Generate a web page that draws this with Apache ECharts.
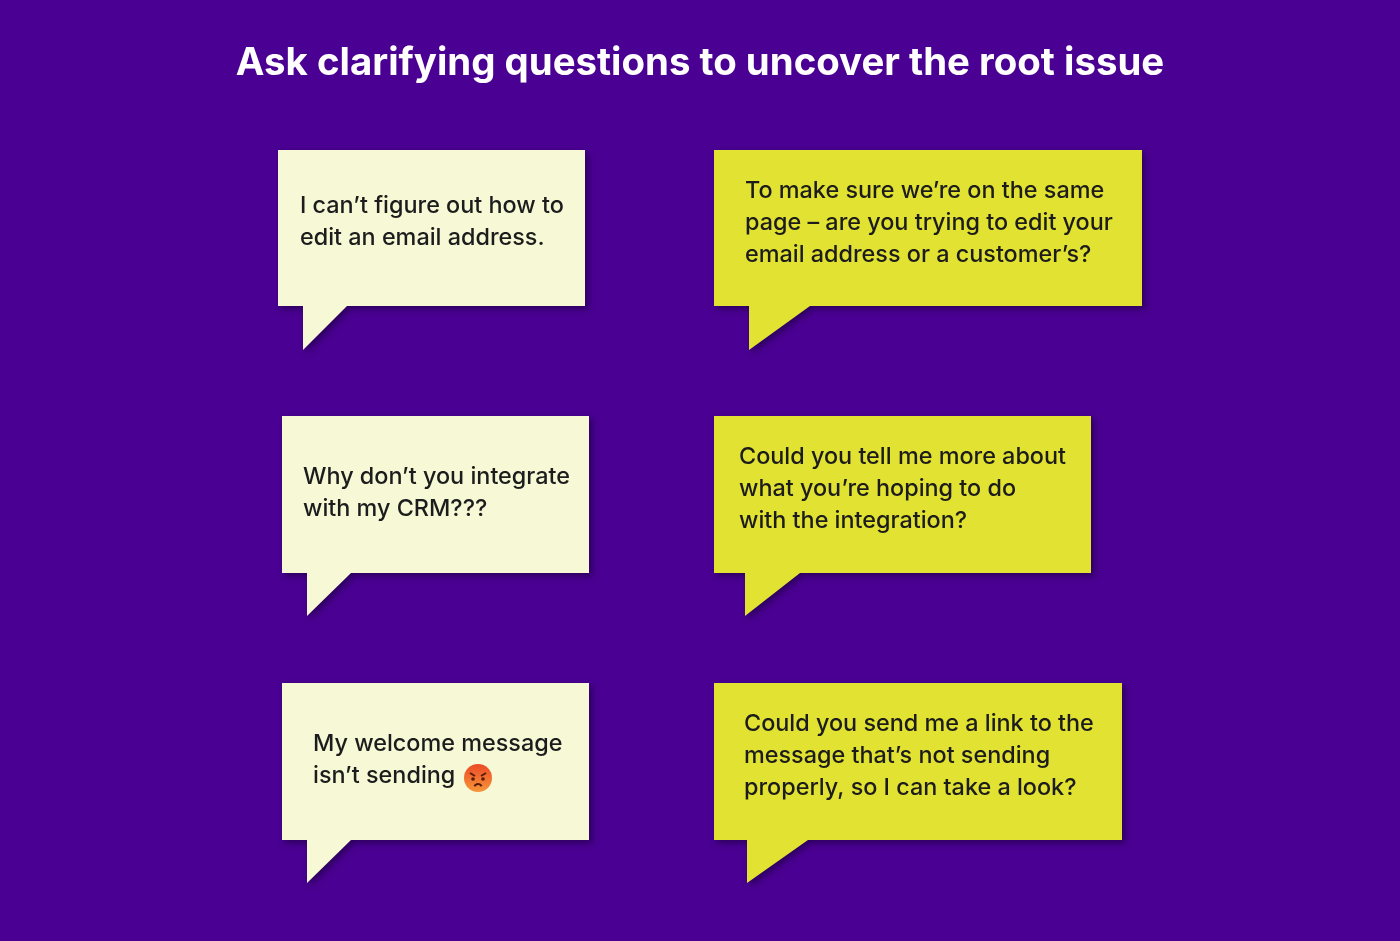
<!DOCTYPE html>
<html>
<head>
<meta charset="utf-8">
<title>Ask clarifying questions</title>
<script src="https://cdn.jsdelivr.net/npm/echarts@6/dist/echarts.min.js"></script>
<style>
  html, body { margin: 0; padding: 0; background: #4a0092; }
  #chart { width: 1400px; height: 941px; }
</style>
</head>
<body>
<div id="chart"></div>
<script>
// --- content ---
var titleText = 'Ask clarifying questions to uncover the root issue';

// customer messages (left column)
var customerLines = [
    ['I can\u2019t figure out how to', 'edit an email address.'],
    ['Why don\u2019t you integrate', 'with my CRM???'],
    ['My welcome message', 'isn\u2019t sending']
];

// support replies (right column)
var replyLines = [
    ['To make sure we\u2019re on the same', 'page \u2013 are you trying to edit your', 'email address or a customer\u2019s?'],
    ['Could you tell me more about', 'what you\u2019re hoping to do', 'with the integration?'],
    ['Could you send me a link to the', 'message that\u2019s not sending', 'properly, so I can take a look?']
];

// --- layout of the bubbles (box, tail, first text line) ---
var leftBoxes = [
    { x0: 278, y0: 150, x1: 585, y1: 306, tailX: 303, tailR: 347, tip: 350, tx: 300, ty: 206 },
    { x0: 282, y0: 416, x1: 589, y1: 573, tailX: 307, tailR: 351, tip: 616, tx: 303, ty: 477 },
    { x0: 282, y0: 683, x1: 589, y1: 840, tailX: 307, tailR: 351, tip: 883, tx: 313, ty: 744 }
];
var rightBoxes = [
    { x0: 714, y0: 150, x1: 1142, y1: 306, tailX: 749, tailR: 810, tip: 350, tx: 745, ty: 191 },
    { x0: 714, y0: 416, x1: 1091, y1: 573, tailX: 745, tailR: 800, tip: 616, tx: 739, ty: 457 },
    { x0: 714, y0: 683, x1: 1122, y1: 840, tailX: 747, tailR: 808, tip: 883, tx: 744, ty: 724 }
];

var LINE_H = 32;
var FONT = 'Inter, "Noto Sans", sans-serif';

function bubble(box, lines, fill) {
    var children = [];
    children.push({
        type: 'polygon',
        shape: {
            points: [
                [box.x0, box.y0], [box.x1, box.y0], [box.x1, box.y1],
                [box.tailR, box.y1], [box.tailX, box.tip], [box.tailX, box.y1],
                [box.x0, box.y1]
            ]
        },
        style: {
            fill: fill,
            shadowBlur: 6,
            shadowOffsetX: 3,
            shadowOffsetY: 3,
            shadowColor: 'rgba(20,0,50,0.55)'
        }
    });
    lines.forEach(function (t, i) {
        children.push({
            type: 'text',
            x: box.tx,
            y: box.ty + i * LINE_H,
            style: {
                text: t,
                fill: '#1c1c1c',
                font: '500 23.4px ' + FONT,
                textVerticalAlign: 'middle'
            }
        });
    });
    return { type: 'group', children: children };
}

// angry face drawn next to "isn't sending"
function angryFace(cx, cy, r) {
    return {
        type: 'group',
        children: [
            {
                type: 'circle',
                shape: { cx: cx, cy: cy, r: r },
                style: {
                    fill: new echarts.graphic.LinearGradient(0, 0, 0, 1, [
                        { offset: 0, color: '#ec4a26' },
                        { offset: 1, color: '#f6963a' }
                    ])
                }
            },
            { type: 'line', shape: { x1: cx - 8, y1: cy - 5, x2: cx - 3, y2: cy - 2 }, style: { stroke: '#5a1a0a', lineWidth: 2 } },
            { type: 'line', shape: { x1: cx + 8, y1: cy - 5, x2: cx + 3, y2: cy - 2 }, style: { stroke: '#5a1a0a', lineWidth: 2 } },
            { type: 'circle', shape: { cx: cx - 5, cy: cy + 1, r: 1.8 }, style: { fill: '#5a1a0a' } },
            { type: 'circle', shape: { cx: cx + 5, cy: cy + 1, r: 1.8 }, style: { fill: '#5a1a0a' } },
            { type: 'arc', shape: { cx: cx, cy: cy + 10, r: 4, startAngle: Math.PI * 1.15, endAngle: Math.PI * 1.85 }, style: { stroke: '#5a1a0a', lineWidth: 2, fill: null } }
        ]
    };
}

var chart = echarts.init(document.getElementById('chart'), null, { renderer: 'canvas' });

var elements = [];
elements.push({
    type: 'text',
    x: 700,
    y: 63,
    style: {
        text: titleText,
        fill: '#ffffff',
        font: 'bold 38.4px ' + FONT,
        textAlign: 'center',
        textVerticalAlign: 'middle'
    }
});
leftBoxes.forEach(function (b, i) { elements.push(bubble(b, customerLines[i], '#f6f8d6')); });
rightBoxes.forEach(function (b, i) { elements.push(bubble(b, replyLines[i], '#e2e233')); });
elements.push(angryFace(478, 778, 14));

var option = {
    backgroundColor: '#4a0092',
    animation: false,
    graphic: { elements: elements }
};

chart.setOption(option);
window.addEventListener('resize', function () { chart.resize(); });
</script>
</body>
</html>
